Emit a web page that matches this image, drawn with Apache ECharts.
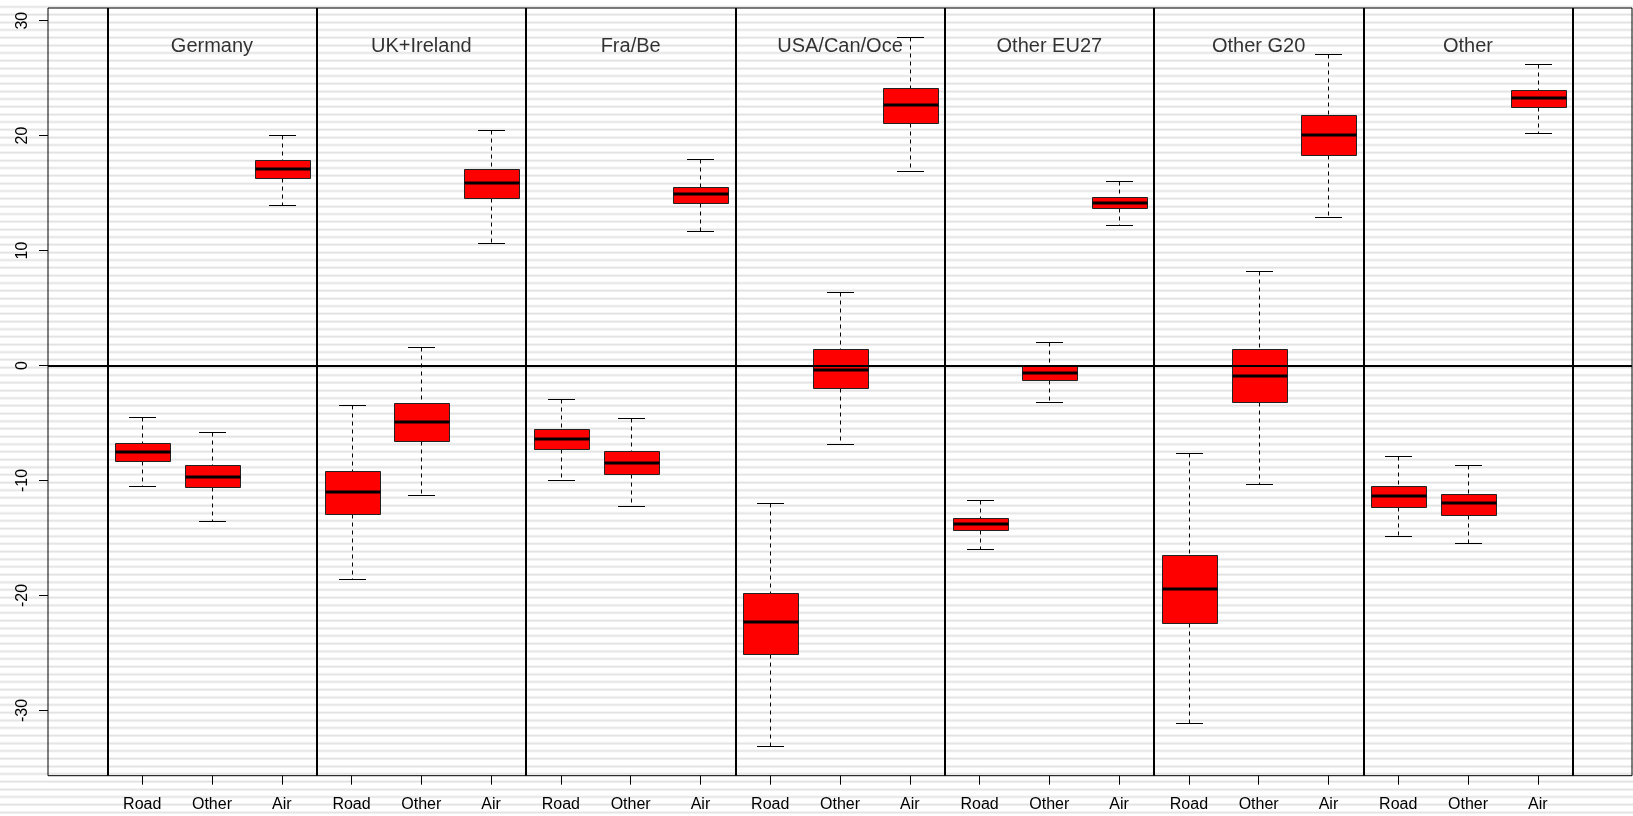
<!DOCTYPE html>
<html><head><meta charset="utf-8">
<script src="https://cdn.jsdelivr.net/npm/echarts@6/dist/echarts.min.js"></script>
<style>
html,body{margin:0;padding:0;width:1633px;height:816px;overflow:hidden;background:#fff;}
#chart{width:1633px;height:816px;
  background-image: repeating-linear-gradient(to bottom, #ffffff 0px, #ffffff 5.1px, #e3e3e3 5.7px, #e3e3e3 7.1px, #ffffff 7.67px);
  background-position: 0 0.6px;}
</style></head><body><div id="chart"></div>
<script>
// ---- data ----
const groups = ['Germany', 'UK+Ireland', 'Fra/Be', 'USA/Can/Oce', 'Other EU27', 'Other G20', 'Other'];
const modes = ['Road', 'Other', 'Air'];
const yTicks = [-30, -20, -10, 0, 10, 20, 30];
// one value per box, order: group by group, Road / Other / Air
const lowerWhisker = [-10.48, -13.50, 13.98,  -18.60, -11.26, 10.65,  -9.92, -12.25, 11.72,  -33.10, -6.84, 16.89,  -15.96, -3.16, 12.20,  -31.09, -10.28, 12.92,  -14.87, -15.40, 20.25];
const quart1       = [ -8.28, -10.60, 16.28,  -12.94,  -6.54, 14.54,  -7.25,  -9.47, 14.10,  -25.12, -1.92, 21.10,  -14.32, -1.28, 13.72,  -22.44,  -3.20, 18.28,  -12.33, -12.97, 22.50];
const medians      = [ -7.55,  -9.70, 17.06,  -11.03,  -4.94, 15.84,  -6.35,  -8.49, 14.88,  -22.30, -0.37, 22.63,  -13.76, -0.64, 14.17,  -19.40,  -0.92, 20.04,  -11.35, -11.98, 23.30];
const quart3       = [ -6.77,  -8.68, 17.84,   -9.17,  -3.29, 17.11,  -5.53,  -7.42, 15.57,  -19.76,  1.43, 24.10,  -13.28,  0.04, 14.68,  -16.48,   1.44, 21.80,  -10.50, -11.20, 24.00];
const upperWhisker = [ -4.51,  -5.75, 20.07,   -3.43,   1.58, 20.50,  -2.87,  -4.55, 17.96,  -11.97,  6.36, 28.60,  -11.68,  2.04, 16.04,   -7.64,   8.20, 27.12,   -7.84,  -8.65, 26.25];

// ---- layout constants ----
const FONT = '"Liberation Sans", Arial, sans-serif';
const X_MIN = -0.35, X_MAX = 22.35, Y_MIN = -35.68, Y_MAX = 31.1;
const TITLE_Y = 27.75;
const BOX_HALF = 0.4, CAP_HALF = 0.2;

const positions = lowerWhisker.map((_, i) => i + 1);
const boxData = positions.map((p, i) => [p, lowerWhisker[i], quart1[i], medians[i], quart3[i], upperWhisker[i]]);
const titleData = groups.map((g, i) => [3 * i + 2, TITLE_Y]);
const separators = groups.map((g, i) => 3 * i + 0.5).concat([3 * groups.length + 0.5]);

function crisp(v) { return Math.round(v) + 0.5; }

function renderBox(params, api) {
  const x = api.value(0);
  const lo = api.coord([x, api.value(1)]);
  const q1 = api.coord([x, api.value(2)]);
  const md = api.coord([x, api.value(3)]);
  const q3 = api.coord([x, api.value(4)]);
  const hi = api.coord([x, api.value(5)]);
  const unit = api.size([1, 0])[0];
  const cx = crisp(lo[0]);
  const bh = unit * BOX_HALF, ch = unit * CAP_HALF;
  const bl = crisp(cx - bh), br = crisp(cx + bh);
  const line = (x1, y1, x2, y2, style) => ({ type: 'line', shape: { x1, y1, x2, y2 }, style });
  const dashed = { stroke: '#000', lineWidth: 1, lineDash: [4, 4] };
  const solid = { stroke: '#000', lineWidth: 1 };
  return {
    type: 'group',
    children: [
      line(cx, crisp(hi[1]), cx, crisp(q3[1]), dashed),
      line(cx, crisp(q1[1]), cx, crisp(lo[1]), dashed),
      line(Math.round(cx - ch), crisp(hi[1]), Math.round(cx + ch), crisp(hi[1]), solid),
      line(Math.round(cx - ch), crisp(lo[1]), Math.round(cx + ch), crisp(lo[1]), solid),
      { type: 'rect', shape: { x: bl, y: crisp(q3[1]), width: br - bl, height: crisp(q1[1]) - crisp(q3[1]) },
        style: { fill: '#ff0000', stroke: '#222', lineWidth: 1 } },
      line(bl, Math.round(md[1]), br, Math.round(md[1]), { stroke: '#000', lineWidth: 3 })
    ]
  };
}

const chart = echarts.init(document.getElementById('chart'), null, { renderer: 'canvas' });
chart.setOption({
  backgroundColor: 'transparent',
  animation: false,
  textStyle: { fontFamily: FONT },
  grid: { left: 48, right: 1, top: 8, bottom: 40.3, show: true, borderColor: '#000', borderWidth: 1,
          backgroundColor: 'transparent', containLabel: false, outerBoundsMode: 'none' },
  xAxis: {
    type: 'value', min: X_MIN, max: X_MAX, position: 'bottom',
    axisLine: { show: false, onZero: false }, splitLine: { show: false },
    axisTick: { show: true, customValues: positions, length: 9, lineStyle: { color: '#000', width: 1 } },
    axisLabel: { show: true, customValues: positions, margin: 21, fontSize: 16, color: '#000', fontFamily: FONT,
                 formatter: v => modes[(Math.round(v) - 1) % 3] }
  },
  yAxis: {
    type: 'value', min: Y_MIN, max: Y_MAX, position: 'left',
    axisLine: { show: false, onZero: false }, splitLine: { show: false },
    axisTick: { show: true, customValues: yTicks, length: 9, lineStyle: { color: '#000', width: 1 } },
    axisLabel: { show: true, customValues: yTicks, rotate: 90, margin: 17, fontSize: 16, color: '#000', fontFamily: FONT }
  },
  series: [
    {
      type: 'custom', z: 2, data: boxData, renderItem: renderBox,
      encode: { x: 0, y: [1, 2, 3, 4, 5] }, silent: true, clip: false
    },
    {
      type: 'scatter', z: 5, data: titleData, symbolSize: 0, silent: true,
      label: { show: true, position: 'inside', formatter: p => groups[p.dataIndex],
               fontSize: 20, color: '#000', fontFamily: FONT },
      markLine: {
        silent: true, symbol: ['none', 'none'], label: { show: false },
        lineStyle: { color: '#000', width: 2, type: 'solid' },
        data: separators.map(v => ({ xAxis: v })).concat([{ yAxis: 0 }])
      }
    }
  ]
});
</script></body></html>
